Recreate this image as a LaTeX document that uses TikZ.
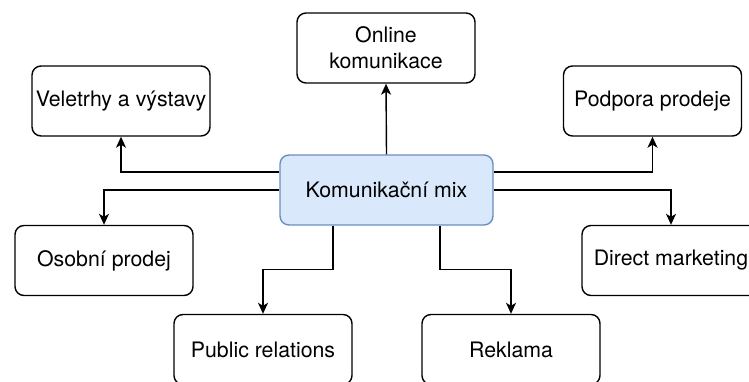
\documentclass[tikz,border=0pt]{standalone}
\usepackage{fontspec}
\setmainfont{TeX Gyre Heros}
\usetikzlibrary{arrows.meta,calc}
\definecolor{mixfill}{HTML}{DAE8FC}
\definecolor{mixdraw}{HTML}{6C8EBF}
\tikzset{
  box/.style={draw=black, rounded corners=9pt, line width=1.4pt, minimum width=178pt, minimum height=70pt, inner sep=0pt, align=center, font=\fontsize{21.3}{26}\selectfont, text=black},
  mixbox/.style={box, minimum width=213pt, fill=mixfill, draw=mixdraw},
  arr/.style={line width=1.4pt, -{Stealth[length=11pt,width=10pt,inset=3pt]}}
}
\begin{document}
\begin{tikzpicture}[x=1pt,y=-1pt]
\useasboundingbox (0,0) rectangle (749,381);
\clip (0,0) rectangle (749,381);
\node[mixbox] (mix) at (386.5,190) {Komunikační mix};
\node[box] (online) at (386,48) {Online\\komunikace};
\node[box] (vel) at (121,101) {Veletrhy a výstavy};
\node[box] (pod) at (652.5,101) {Podpora prodeje};
\node[box] (osob) at (104,260.5) {Osobní prodej};
\node[box] (direct) at (671,260.5) {Direct marketing};
\node[box] (pr) at (263,349.5) {Public relations};
\node[box] (rek) at (511,349.5) {Reklama};
\coordinate (wq) at ($(mix.north west)!0.25!(mix.south west)$);
\coordinate (eq) at ($(mix.north east)!0.25!(mix.south east)$);
\coordinate (sl) at ($(mix.south west)!0.25!(mix.south east)$);
\coordinate (sr) at ($(mix.south west)!0.75!(mix.south east)$);
\coordinate (ml) at ($(sl)!0.5!(pr.north)$);
\coordinate (mr) at ($(sr)!0.5!(rek.north)$);
\draw[arr] (mix.north) -- (online.south);
\draw[arr] (wq) -| (vel.south);
\draw[arr] (mix.west) -| (osob.north);
\draw[arr] (eq) -| (pod.south);
\draw[arr] (mix.east) -| (direct.north);
\draw[arr] (sl) |- (ml) -| (pr.north);
\draw[arr] (sr) |- (mr) -| (rek.north);
\end{tikzpicture}
\end{document}
